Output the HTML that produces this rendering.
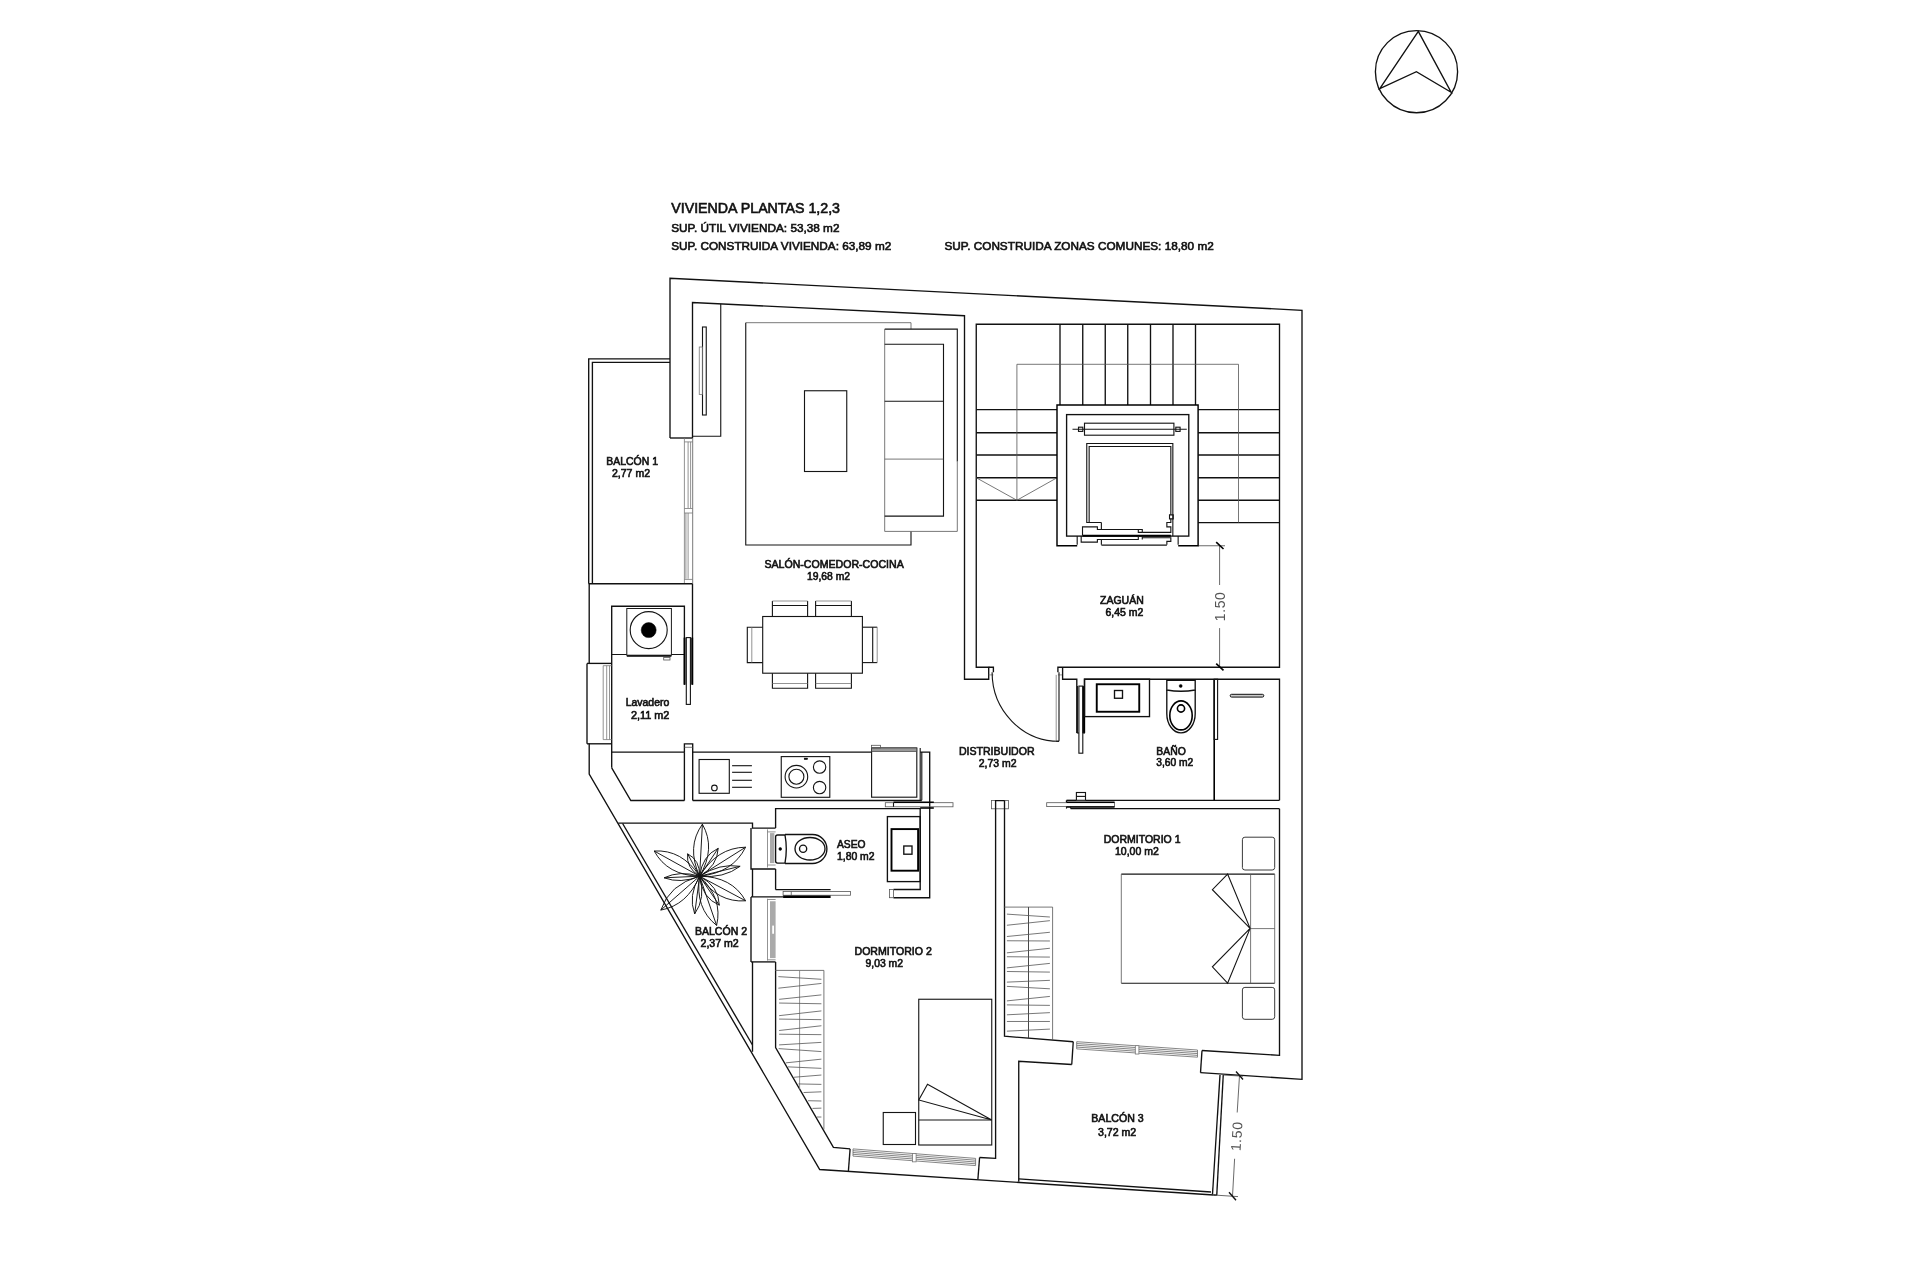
<!DOCTYPE html>
<html lang="es"><head><meta charset="utf-8"><title>Vivienda plantas 1,2,3</title>
<style>
html,body{margin:0;padding:0;background:#fff}
svg{display:block;filter:grayscale(1)}
line,polyline,polygon,rect,circle,ellipse,path{fill:none;stroke-linecap:butt;stroke-linejoin:miter}
.w{stroke:#111;stroke-width:1.35}
.m{stroke:#151515;stroke-width:1.12}
.t{stroke:#777;stroke-width:.8}
.t2{stroke:#555;stroke-width:.8}
.d{stroke:#444;stroke-width:.8}
.p{stroke:#111;stroke-width:.95}
.k{fill:#000;stroke:#000;stroke-width:.5}
.k2{stroke:#000;stroke-width:1.9}
.k5{stroke:#000;stroke-width:1.45}
.k3{stroke:#000;stroke-width:1.6}
.k4{stroke:#000;stroke-width:2.6}
.m2{stroke:#333;stroke-width:.9}
.hd{stroke:#111;stroke-width:1;fill:#ccc}
.wh{fill:#fff;stroke:none}
.wn{stroke:#707070;stroke-width:.85}
.wm{stroke:#777;stroke-width:.8;fill:#fff}
.ns{stroke:#3a3a3a;stroke-width:1}
.mw{stroke:#1a1a1a;stroke-width:1;fill:#fff}
.g{fill:#aaa;stroke:none}
.g2{fill:#999;stroke:#333;stroke-width:.6}
.none{stroke:none}
text{font-family:"Liberation Sans",sans-serif;fill:#111}
.lbl{stroke:#111;stroke-width:.62px}
.hdr{stroke:#111;stroke-width:.62px}
.dim{fill:#555}
</style></head>
<body>
<svg width="1920" height="1280" viewBox="0 0 1920 1280">
<rect x="0" y="0" width="1920" height="1280" style="fill:#fff;stroke:none"/>
<circle class="w" cx="1416.50" cy="71.70" r="41.10" />
<polygon class="w" points="1418.30,31.40 1379.80,88.60 1416.40,71.70 1451.10,92.30"/>
<text class="hdr" x="671.25" y="213.25" font-size="14.2" textLength="168.75" lengthAdjust="spacingAndGlyphs">VIVIENDA PLANTAS 1,2,3</text>
<text class="hdr" x="671.25" y="231.75" font-size="11.7" textLength="168.25" lengthAdjust="spacingAndGlyphs">SUP. ÚTIL VIVIENDA: 53,38 m2</text>
<text class="hdr" x="671.25" y="250.00" font-size="11.7" textLength="220.00" lengthAdjust="spacingAndGlyphs">SUP. CONSTRUIDA VIVIENDA: 63,89 m2</text>
<text class="hdr" x="944.50" y="250.00" font-size="11.7" textLength="269.25" lengthAdjust="spacingAndGlyphs">SUP. CONSTRUIDA ZONAS COMUNES: 18,80 m2</text>
<polyline class="w" points="670.00,438.00 670.00,278.25 1302.00,310.30 1302.00,1079.30 1200.40,1072.70"/>
<line class="w" x1="670.00" y1="438.00" x2="692.50" y2="438.00"/>
<polyline class="w" points="692.50,438.00 692.50,302.50 964.50,315.75 964.50,679.20 988.70,679.20 988.70,667.20 976.25,667.20 976.25,324.25 1279.50,324.25 1279.50,667.20 1057.90,667.20 1057.90,672.30"/>
<polyline class="m" points="720.75,303.90 720.75,436.25 692.50,436.25"/>
<rect class="m" x="702.50" y="327.00" width="3.75" height="88.00" />
<rect class="t" x="699.25" y="347.00" width="3.25" height="47.50" />
<polyline class="w" points="670.00,358.90 588.70,358.90 588.70,583.75"/>
<polyline class="w" points="670.00,362.30 592.40,362.30 592.40,583.75"/>
<line class="t" x1="684.40" y1="438.00" x2="684.40" y2="583.50"/>
<line class="t2" x1="692.70" y1="438.00" x2="692.70" y2="583.50"/>
<line class="t" x1="688.10" y1="441.90" x2="688.10" y2="508.10"/>
<line class="t" x1="690.60" y1="441.90" x2="690.60" y2="508.10"/>
<line class="t" x1="684.40" y1="441.90" x2="692.70" y2="441.90"/>
<line class="t" x1="684.40" y1="508.50" x2="692.70" y2="508.50"/>
<line class="t" x1="684.40" y1="513.00" x2="692.70" y2="513.00"/>
<line class="t" x1="685.90" y1="513.00" x2="685.90" y2="578.75"/>
<line class="t" x1="688.10" y1="513.00" x2="688.10" y2="578.75"/>
<line class="t" x1="684.40" y1="579.40" x2="692.70" y2="579.40"/>
<line class="w" x1="588.75" y1="583.75" x2="692.50" y2="583.75"/>
<line class="w" x1="589.20" y1="583.75" x2="589.20" y2="663.40"/>
<line class="w" x1="587.00" y1="663.40" x2="611.70" y2="663.40"/>
<polyline class="w" points="611.70,767.80 611.70,606.20 684.40,606.20 684.40,684.70"/>
<line class="w" x1="692.50" y1="583.75" x2="692.50" y2="684.70"/>
<line class="m" x1="611.70" y1="654.50" x2="684.40" y2="654.50"/>
<line class="k2" x1="684.60" y1="637.60" x2="684.60" y2="684.70"/>
<line class="k2" x1="692.20" y1="637.60" x2="692.20" y2="684.70"/>
<rect class="m" x="686.30" y="637.60" width="4.10" height="66.80" />
<rect class="mw" x="626.80" y="608.50" width="44.60" height="46.70" />
<circle class="m" cx="648.70" cy="630.10" r="18.50" />
<circle class="k" cx="648.70" cy="630.10" r="7.50" />
<line class="k3" x1="626.80" y1="656.00" x2="671.40" y2="656.00"/>
<rect class="t2" x="663.70" y="657.50" width="6.30" height="2.50" />
<line class="w" x1="587.00" y1="663.40" x2="587.00" y2="743.80"/>
<line class="t" x1="603.20" y1="665.70" x2="603.20" y2="739.60"/>
<line class="t" x1="606.70" y1="665.70" x2="606.70" y2="739.60"/>
<line class="t" x1="609.50" y1="665.70" x2="609.50" y2="739.60"/>
<line class="t" x1="603.20" y1="665.70" x2="611.70" y2="665.70"/>
<line class="t" x1="603.20" y1="739.60" x2="611.70" y2="739.60"/>
<line class="w" x1="587.00" y1="743.80" x2="611.70" y2="743.80"/>
<polyline class="w" points="589.20,743.80 589.20,774.00 819.70,1169.50 1213.75,1195.00"/>
<polyline class="w" points="611.70,767.80 630.80,800.50 684.40,800.50"/>
<line class="w" x1="692.70" y1="800.50" x2="921.80" y2="800.50"/>
<line class="w" x1="611.70" y1="752.10" x2="684.50" y2="752.10"/>
<line class="w" x1="692.00" y1="752.10" x2="871.60" y2="752.10"/>
<polyline class="w" points="684.40,752.10 684.40,743.90 692.70,743.90 692.70,800.60"/>
<line class="t2" x1="684.40" y1="747.30" x2="692.70" y2="747.30"/>
<line class="w" x1="684.40" y1="752.10" x2="684.40" y2="800.60"/>
<rect class="m" x="699.10" y="759.50" width="30.20" height="33.80" />
<circle class="m" cx="714.40" cy="787.90" r="2.80" />
<line class="m" x1="732.10" y1="765.70" x2="751.90" y2="765.70"/>
<line class="m" x1="732.10" y1="772.30" x2="751.90" y2="772.30"/>
<line class="m" x1="732.10" y1="780.30" x2="751.90" y2="780.30"/>
<line class="m" x1="732.10" y1="787.30" x2="751.90" y2="787.30"/>
<rect class="m" x="781.25" y="756.60" width="48.55" height="40.70" />
<circle class="m" cx="796.40" cy="776.70" r="11.30" />
<circle class="m" cx="796.40" cy="776.70" r="7.50" />
<circle class="m" cx="819.60" cy="767.10" r="6.20" />
<circle class="m" cx="819.60" cy="787.60" r="6.20" />
<rect class="k" x="804.20" y="758.10" width="3.40" height="1.40" />
<rect class="m" x="871.60" y="748.00" width="45.20" height="49.20" />
<rect class="g2" x="871.60" y="748.00" width="45.20" height="3.60" />
<rect class="t2" x="871.60" y="745.30" width="8.90" height="2.70" />
<line class="m" x1="920.20" y1="748.00" x2="920.20" y2="800.30"/>
<line class="m" x1="921.80" y1="752.10" x2="921.80" y2="800.30"/>
<polyline class="w" points="920.20,752.10 929.70,752.10 929.70,897.70 893.50,897.70"/>
<line class="w" x1="775.60" y1="869.00" x2="775.60" y2="889.60"/>
<polyline class="w" points="775.60,828.10 775.60,808.60 920.20,808.60 920.20,889.50 893.50,889.50"/>
<rect class="t2" x="889.40" y="889.50" width="4.10" height="8.20" />
<rect class="t2" x="885.30" y="802.70" width="67.70" height="4.10" />
<line class="k3" x1="893.50" y1="802.20" x2="933.80" y2="802.20"/>
<line class="k3" x1="920.20" y1="808.00" x2="933.80" y2="808.00"/>
<line class="m" x1="893.50" y1="802.70" x2="893.50" y2="806.80"/>
<rect class="w" x="887.40" y="816.60" width="32.80" height="65.00" />
<rect class="k2" x="891.50" y="829.10" width="26.60" height="41.60" />
<rect class="w" x="903.80" y="846.00" width="8.20" height="8.20" />
<path class="w" d="M785,835 L777.6,835 Q775.6,835 775.6,837 L775.6,861.1 Q775.6,863.1 777.6,863.1 L785,863.1"/>
<path class="w" d="M785,835 Q787.6,849 785,863.1"/>
<path class="w" d="M785,834.5 L812.5,834.5 A14.4,14.5 0 0 1 812.5,863.5 L785,863.5"/>
<ellipse class="w" cx="810.00" cy="848.75" rx="15.00" ry="11.25"/>
<circle class="w" cx="803.10" cy="848.75" r="3.60" />
<circle class="k" cx="780.25" cy="849.00" r="1.40" />
<line class="w" x1="775.60" y1="889.60" x2="830.60" y2="889.60"/>
<rect class="t2" x="783.10" y="891.50" width="67.50" height="3.75" />
<line class="t2" x1="791.25" y1="891.50" x2="791.25" y2="895.25"/>
<line class="k4" x1="783.10" y1="896.70" x2="830.60" y2="896.70"/>
<polyline class="w" points="618.20,823.10 752.50,823.10 752.50,828.10 775.60,828.10"/>
<line class="w" x1="622.60" y1="823.50" x2="752.50" y2="1045.00"/>
<polyline class="w" points="751.00,828.10 751.00,869.00 775.60,869.00"/>
<line class="t" x1="767.50" y1="829.40" x2="767.50" y2="867.50"/>
<line class="t" x1="767.50" y1="831.90" x2="775.60" y2="831.90"/>
<line class="t" x1="767.50" y1="865.00" x2="775.60" y2="865.00"/>
<rect class="g" x="770.00" y="833.10" width="4.40" height="30.00" />
<line class="w" x1="752.50" y1="869.00" x2="752.50" y2="896.90"/>
<line class="w" x1="751.00" y1="896.90" x2="783.10" y2="896.90"/>
<line class="w" x1="751.00" y1="896.90" x2="751.00" y2="961.90"/>
<line class="t" x1="767.50" y1="898.75" x2="767.50" y2="960.60"/>
<line class="t" x1="767.50" y1="899.50" x2="775.60" y2="899.50"/>
<line class="t" x1="767.50" y1="959.80" x2="775.60" y2="959.80"/>
<rect class="g" x="770.00" y="901.25" width="5.60" height="56.85" />
<rect class="wh" x="772.20" y="925.60" width="1.80" height="8.15" />
<line class="w" x1="751.00" y1="961.90" x2="775.60" y2="961.90"/>
<line class="w" x1="752.50" y1="961.90" x2="752.50" y2="1051.75"/>
<polyline class="w" points="775.60,961.90 775.60,1047.60 833.40,1147.30 850.10,1148.90"/>
<line class="w" x1="850.10" y1="1148.90" x2="848.40" y2="1171.00"/>
<line class="w" x1="979.60" y1="1157.50" x2="977.90" y2="1179.30"/>
<line class="wn" x1="853.00" y1="1148.90" x2="975.60" y2="1158.40"/>
<line class="wn" x1="853.00" y1="1150.70" x2="975.60" y2="1160.20"/>
<line class="wn" x1="853.00" y1="1152.50" x2="975.60" y2="1162.00"/>
<line class="wn" x1="853.00" y1="1154.30" x2="975.60" y2="1163.80"/>
<line class="wn" x1="853.00" y1="1156.10" x2="975.60" y2="1165.60"/>
<line class="wn" x1="853.00" y1="1148.90" x2="853.00" y2="1156.10"/>
<line class="wn" x1="975.60" y1="1158.40" x2="975.60" y2="1165.60"/>
<rect class="wm" x="912.50" y="1153.45" width="3.60" height="8.40" />
<rect class="t2" x="991.60" y="800.60" width="17.00" height="8.20" />
<polyline class="w" points="1004.50,800.60 995.60,800.60 995.60,1158.40 979.60,1157.50"/>
<polyline class="w" points="1004.50,800.60 1004.50,1036.25 1073.25,1041.75"/>
<line class="w" x1="1073.25" y1="1041.75" x2="1071.75" y2="1064.50"/>
<polyline class="w" points="1071.75,1064.50 1018.75,1061.25 1018.75,1181.75"/>
<line class="w" x1="1202.00" y1="1050.50" x2="1200.50" y2="1072.60"/>
<polyline class="w" points="1202.00,1050.50 1279.50,1055.30 1279.50,808.75"/>
<line class="wn" x1="1076.70" y1="1041.70" x2="1197.50" y2="1050.00"/>
<line class="wn" x1="1076.70" y1="1043.50" x2="1197.50" y2="1051.80"/>
<line class="wn" x1="1076.70" y1="1045.30" x2="1197.50" y2="1053.60"/>
<line class="wn" x1="1076.70" y1="1047.10" x2="1197.50" y2="1055.40"/>
<line class="wn" x1="1076.70" y1="1048.90" x2="1197.50" y2="1057.20"/>
<line class="wn" x1="1076.70" y1="1041.70" x2="1076.70" y2="1048.90"/>
<line class="wn" x1="1197.50" y1="1050.00" x2="1197.50" y2="1057.20"/>
<rect class="wm" x="1135.30" y="1045.65" width="3.60" height="8.40" />
<line class="w" x1="1018.75" y1="1178.80" x2="1211.00" y2="1192.00"/>
<line class="w" x1="1220.00" y1="1075.00" x2="1212.50" y2="1194.25"/>
<line class="w" x1="1223.25" y1="1075.00" x2="1216.75" y2="1195.20"/>
<line class="w" x1="1213.75" y1="1195.00" x2="1216.75" y2="1195.20"/>
<line class="d" x1="1239.50" y1="1075.50" x2="1237.20" y2="1112.50"/>
<line class="d" x1="1234.60" y1="1158.75" x2="1232.50" y2="1196.25"/>
<line class="d" x1="1223.00" y1="1075.00" x2="1243.00" y2="1076.20"/>
<line class="d" x1="1213.75" y1="1195.00" x2="1238.00" y2="1196.60"/>
<line class="w" x1="1236.00" y1="1071.50" x2="1243.00" y2="1079.50"/>
<line class="w" x1="1229.00" y1="1192.20" x2="1236.00" y2="1200.20"/>
<text class="dim" font-size="14" text-anchor="middle" letter-spacing=".6" transform="translate(1241.5,1136.5) rotate(-86.4)">1.50</text>
<line class="d" x1="1219.60" y1="545.60" x2="1219.60" y2="585.00"/>
<line class="d" x1="1219.60" y1="628.10" x2="1219.60" y2="667.00"/>
<line class="d" x1="1198.25" y1="545.75" x2="1225.00" y2="545.75"/>
<line class="k3" x1="1216.20" y1="542.20" x2="1223.50" y2="549.00"/>
<line class="k3" x1="1216.20" y1="663.60" x2="1223.50" y2="670.40"/>
<text class="dim" font-size="14" text-anchor="middle" letter-spacing=".6" transform="translate(1225.4,606.4) rotate(-90)">1.50</text>
<line class="t" x1="1057.90" y1="674.90" x2="1062.60" y2="674.90"/>
<polyline class="w" points="1062.60,667.20 1062.60,679.20 1076.80,679.20 1076.80,733.00"/>
<polyline class="w" points="1084.50,733.00 1084.50,679.20 1279.50,679.20 1279.50,800.30"/>
<line class="w" x1="1066.50" y1="800.30" x2="1076.40" y2="800.30"/>
<line class="w" x1="1085.50" y1="800.30" x2="1279.50" y2="800.30"/>
<polyline class="w" points="1066.50,800.30 1066.50,802.40"/>
<line class="w" x1="1070.60" y1="808.60" x2="1279.50" y2="808.60"/>
<line class="k3" x1="1214.20" y1="679.20" x2="1214.20" y2="800.30"/>
<rect class="m" x="1214.20" y="679.20" width="3.40" height="60.20" />
<rect class="hd" x="1230.20" y="694.30" width="33.60" height="2.80" rx="1.4"/>
<line class="m" x1="1077.40" y1="686.10" x2="1077.40" y2="733.00"/>
<line class="k4" x1="1083.70" y1="686.10" x2="1083.70" y2="733.00"/>
<rect class="m" x="1078.90" y="686.10" width="3.90" height="67.10" />
<line class="m" x1="1076.80" y1="733.00" x2="1078.90" y2="733.00"/>
<line class="m" x1="1082.80" y1="733.00" x2="1085.00" y2="733.00"/>
<rect class="w" x="1084.50" y="679.20" width="65.00" height="37.40" />
<rect class="k2" x="1096.75" y="684.25" width="42.50" height="27.50" />
<rect class="w" x="1114.50" y="690.50" width="8.00" height="7.75" />
<path class="w" d="M1166.8,680.4 L1195.2,680.4 L1195.2,690 Q1181,692.4 1166.8,690 Z"/>
<circle class="k" cx="1180.70" cy="685.90" r="1.50" />
<path class="w" d="M1166.8,690 L1166.8,713.7 A14.2,19.2 0 0 0 1195.2,713.7 L1195.2,690"/>
<ellipse class="k3" cx="1181.00" cy="715.40" rx="11.20" ry="14.50"/>
<circle class="k3" cx="1181.00" cy="708.50" r="3.60" />
<rect class="t2" x="1046.70" y="802.70" width="67.90" height="3.90" />
<line class="k3" x1="1066.50" y1="802.20" x2="1114.60" y2="802.20"/>
<line class="k3" x1="1066.50" y1="807.00" x2="1114.60" y2="807.00"/>
<line class="m" x1="1066.50" y1="806.60" x2="1066.50" y2="808.60"/>
<line class="m" x1="1070.60" y1="806.60" x2="1070.60" y2="808.60"/>
<rect class="m" x="1076.40" y="792.50" width="9.10" height="7.80" />
<line class="m" x1="1076.40" y1="796.40" x2="1085.50" y2="796.40"/>
<polyline class="w" points="988.70,667.20 993.40,667.20 993.40,672.30"/>
<line class="t" x1="988.70" y1="674.90" x2="993.40" y2="674.90"/>
<path class="m" d="M992.1,672.3 A67,69 0 0 0 1059,741.3"/>
<line class="t" x1="1056.20" y1="674.90" x2="1056.20" y2="741.30"/>
<line class="m" x1="1059.00" y1="672.30" x2="1059.00" y2="741.30"/>
<line class="m" x1="1056.20" y1="741.30" x2="1059.00" y2="741.30"/>
<polyline class="t2" points="911.00,329.10 911.00,322.70 745.75,322.70"/>
<polyline class="m" points="745.75,322.70 745.75,545.00 911.00,545.00 911.00,531.40"/>
<polyline class="m" points="884.70,329.10 957.30,329.10 957.30,461.40"/>
<polyline class="t2" points="957.30,461.40 957.30,531.40 884.70,531.40 884.70,329.10"/>
<polyline class="m" points="884.70,344.20 943.50,344.20 943.50,516.10 884.70,516.10"/>
<line class="m" x1="884.70" y1="401.20" x2="943.50" y2="401.20"/>
<line class="t2" x1="884.70" y1="459.10" x2="943.50" y2="459.10"/>
<rect class="m" x="804.50" y="390.75" width="42.25" height="80.75" />
<rect class="m" x="762.70" y="616.50" width="99.70" height="56.70" />
<polyline class="m" points="772.40,616.50 772.40,601.00"/>
<polyline class="m" points="807.60,616.50 807.60,601.00"/>
<line class="t" x1="772.40" y1="601.00" x2="807.60" y2="601.00"/>
<line class="m" x1="772.40" y1="605.50" x2="807.60" y2="605.50"/>
<polyline class="m" points="772.40,673.20 772.40,688.20 807.60,688.20 807.60,673.20"/>
<line class="t" x1="772.40" y1="683.50" x2="807.60" y2="683.50"/>
<polyline class="m" points="815.60,616.50 815.60,601.00"/>
<polyline class="m" points="851.40,616.50 851.40,601.00"/>
<line class="t" x1="815.60" y1="601.00" x2="851.40" y2="601.00"/>
<line class="m" x1="815.60" y1="605.50" x2="851.40" y2="605.50"/>
<polyline class="m" points="815.60,673.20 815.60,688.20 851.40,688.20 851.40,673.20"/>
<line class="t" x1="815.60" y1="683.50" x2="851.40" y2="683.50"/>
<polyline class="m" points="762.70,627.20 747.30,627.20 747.30,662.60 762.70,662.60"/>
<line class="t" x1="751.80" y1="627.20" x2="751.80" y2="662.60"/>
<polyline class="m" points="862.40,627.20 877.20,627.20"/>
<polyline class="m" points="862.40,662.60 877.20,662.60"/>
<line class="t" x1="877.20" y1="627.20" x2="877.20" y2="662.60"/>
<line class="m" x1="872.70" y1="627.20" x2="872.70" y2="662.60"/>
<line class="w" x1="1060.00" y1="324.25" x2="1060.00" y2="405.00"/>
<line class="w" x1="1082.75" y1="324.25" x2="1082.75" y2="405.00"/>
<line class="w" x1="1105.25" y1="324.25" x2="1105.25" y2="405.00"/>
<line class="w" x1="1127.75" y1="324.25" x2="1127.75" y2="405.00"/>
<line class="w" x1="1150.50" y1="324.25" x2="1150.50" y2="405.00"/>
<line class="w" x1="1173.00" y1="324.25" x2="1173.00" y2="405.00"/>
<line class="w" x1="1195.50" y1="324.25" x2="1195.50" y2="405.00"/>
<line class="w" x1="976.25" y1="409.60" x2="1057.00" y2="409.60"/>
<line class="w" x1="976.25" y1="432.75" x2="1057.00" y2="432.75"/>
<line class="w" x1="976.25" y1="455.00" x2="1057.00" y2="455.00"/>
<line class="w" x1="976.25" y1="477.75" x2="1057.00" y2="477.75"/>
<line class="w" x1="976.25" y1="500.25" x2="1057.00" y2="500.25"/>
<line class="w" x1="1198.25" y1="409.60" x2="1279.50" y2="409.60"/>
<line class="w" x1="1198.25" y1="432.75" x2="1279.50" y2="432.75"/>
<line class="w" x1="1198.25" y1="455.00" x2="1279.50" y2="455.00"/>
<line class="w" x1="1198.25" y1="477.75" x2="1279.50" y2="477.75"/>
<line class="w" x1="1198.25" y1="500.25" x2="1279.50" y2="500.25"/>
<line class="w" x1="1198.25" y1="522.60" x2="1279.50" y2="522.60"/>
<polyline class="t2" points="1016.90,500.25 1016.90,364.30 1238.50,364.30 1238.50,522.60"/>
<polyline class="t2" points="976.25,477.75 1016.90,500.25 1057.00,477.75"/>
<rect class="none" x="1057.00" y="404.90" width="141.10" height="140.80" />
<polyline class="k5" points="1077.20,545.70 1057.00,545.70 1057.00,404.90 1198.10,404.90 1198.10,545.70 1178.20,545.70"/>
<rect class="w" x="1066.60" y="414.60" width="122.20" height="121.50" />
<rect class="m" x="1084.50" y="423.20" width="89.40" height="12.00" />
<line class="m" x1="1072.50" y1="429.30" x2="1186.80" y2="429.30"/>
<rect class="m" x="1078.50" y="427.20" width="4.30" height="4.20" />
<rect class="m" x="1175.80" y="427.20" width="4.30" height="4.20" />
<polyline class="m" points="1101.37,522.44 1086.76,522.44 1086.76,443.53 1172.84,443.53 1172.84,536.12"/>
<polyline class="m" points="1089.15,522.44 1089.15,446.46 1170.84,446.46 1170.84,514.87"/>
<polygon class="m" points="1169.52,514.87 1173.24,514.87 1173.24,518.85 1169.52,518.85"/>
<polyline class="m" points="1101.37,522.44 1101.37,529.48 1097.39,529.48 1097.39,526.82 1082.51,526.82 1082.51,535.46"/>
<polyline class="m" points="1097.39,529.48 1142.28,529.48 1142.28,532.40 1138.30,532.40 1138.30,529.48"/>
<polyline class="m" points="1142.28,532.40 1170.84,532.40 1170.84,526.82 1166.86,526.82 1166.86,522.44 1170.84,522.44 1170.84,518.85"/>
<line class="k2" x1="1082.51" y1="535.72" x2="1170.84" y2="535.72"/>
<polyline class="m" points="1077.19,536.12 1077.19,544.76"/>
<polyline class="m" points="1178.15,536.12 1178.15,544.76"/>
<polyline class="m" points="1081.18,536.12 1081.18,542.10 1097.39,542.10 1097.39,539.44 1101.37,539.44 1101.37,544.76"/>
<polyline class="m" points="1101.37,539.44 1138.30,539.44 1138.30,536.52 1142.28,536.52 1142.28,539.44"/>
<polyline class="m" points="1142.28,537.72 1170.84,537.72 1170.84,541.43 1166.86,541.43 1166.86,544.76"/>
<line class="m" x1="1101.37" y1="545.15" x2="1166.86" y2="545.15"/>
<polyline class="t2" points="1003.90,907.10 1052.60,907.10 1052.60,1040.00"/>
<line class="m2" x1="1028.50" y1="907.10" x2="1028.50" y2="1038.20"/>
<line class="t2" x1="1006.90" y1="914.12" x2="1049.90" y2="917.03"/>
<line class="t2" x1="1006.90" y1="925.26" x2="1049.90" y2="920.66"/>
<line class="t2" x1="1006.90" y1="936.51" x2="1049.90" y2="932.28"/>
<line class="t2" x1="1006.90" y1="940.75" x2="1049.90" y2="940.99"/>
<line class="t2" x1="1006.90" y1="952.85" x2="1049.90" y2="948.25"/>
<line class="t2" x1="1006.90" y1="956.72" x2="1049.90" y2="957.09"/>
<line class="t2" x1="1006.90" y1="967.86" x2="1049.90" y2="963.38"/>
<line class="t2" x1="1006.90" y1="971.49" x2="1049.90" y2="972.10"/>
<line class="t2" x1="1006.90" y1="982.14" x2="1049.90" y2="980.33"/>
<line class="t2" x1="1006.90" y1="986.38" x2="1049.90" y2="988.80"/>
<line class="t2" x1="1006.90" y1="1000.90" x2="1049.90" y2="996.42"/>
<line class="t2" x1="1006.90" y1="1004.89" x2="1049.90" y2="1005.38"/>
<line class="t2" x1="1006.90" y1="1014.82" x2="1049.90" y2="1012.64"/>
<line class="t2" x1="1006.90" y1="1021.48" x2="1049.90" y2="1021.48"/>
<line class="t2" x1="1006.90" y1="1031.16" x2="1049.90" y2="1029.10"/>
<rect class="ns" x="1242.40" y="837.20" width="32.30" height="32.80" rx="2.5"/>
<rect class="ns" x="1242.40" y="987.40" width="32.30" height="31.90" rx="2.5"/>
<line class="m" x1="1121.30" y1="874.10" x2="1274.70" y2="874.10"/>
<line class="m" x1="1121.30" y1="983.20" x2="1274.70" y2="983.20"/>
<line class="t2" x1="1121.30" y1="874.10" x2="1121.30" y2="983.20"/>
<line class="t2" x1="1274.70" y1="874.10" x2="1274.70" y2="983.20"/>
<line class="t2" x1="1250.60" y1="874.10" x2="1250.60" y2="983.20"/>
<line class="t2" x1="1250.60" y1="928.60" x2="1274.70" y2="928.60"/>
<polygon class="m" points="1227.60,874.10 1212.40,889.70 1250.10,928.40"/>
<polygon class="m" points="1227.60,983.20 1212.40,966.80 1250.10,928.40"/>
<polyline class="t2" points="775.10,970.40 823.90,970.40 823.90,1129.50"/>
<line class="t" x1="799.60" y1="970.40" x2="799.60" y2="1089.60"/>
<line class="t2" x1="778.36" y1="976.62" x2="821.40" y2="979.29"/>
<line class="t2" x1="778.36" y1="988.20" x2="821.40" y2="983.45"/>
<line class="t2" x1="779.10" y1="999.33" x2="821.40" y2="994.88"/>
<line class="t2" x1="779.10" y1="1003.04" x2="821.40" y2="1003.78"/>
<line class="t2" x1="779.10" y1="1015.66" x2="821.40" y2="1010.91"/>
<line class="t2" x1="779.10" y1="1019.07" x2="821.40" y2="1019.67"/>
<line class="t2" x1="779.10" y1="1030.50" x2="821.40" y2="1025.75"/>
<line class="t2" x1="779.10" y1="1034.21" x2="821.40" y2="1034.66"/>
<line class="t2" x1="779.10" y1="1044.90" x2="821.40" y2="1042.37"/>
<line class="t2" x1="778.65" y1="1048.61" x2="821.40" y2="1051.58"/>
<line class="t2" x1="785.78" y1="1062.86" x2="821.40" y2="1059.15"/>
<line class="t2" x1="788.01" y1="1066.86" x2="821.40" y2="1068.35"/>
<line class="t2" x1="793.94" y1="1077.25" x2="821.40" y2="1075.03"/>
<line class="t2" x1="798.40" y1="1083.93" x2="821.40" y2="1084.38"/>
<line class="t2" x1="803.59" y1="1092.54" x2="821.40" y2="1091.80"/>
<line class="t2" x1="808.04" y1="1100.71" x2="821.40" y2="1101.00"/>
<line class="t2" x1="812.50" y1="1108.42" x2="821.40" y2="1108.13"/>
<line class="t2" x1="816.95" y1="1117.03" x2="821.40" y2="1117.03"/>
<rect class="m" x="918.75" y="999.25" width="73.00" height="145.75" />
<line class="m" x1="918.75" y1="1120.00" x2="991.75" y2="1120.00"/>
<polygon class="m" points="918.75,1100.00 927.50,1084.25 991.75,1120.00"/>
<rect class="m" x="883.25" y="1112.50" width="32.25" height="32.00" />
<path class="p" d="M699.6,876.2 Q716.1,848.4 702.4,824.2 Q686.2,846.8 699.6,876.2 M699.6,876.2 L702.4,824.2"/>
<path class="p" d="M699.6,876.2 Q732.9,872.9 745.6,847.2 Q716.9,847.6 699.6,876.2 M699.6,876.2 L745.6,847.2"/>
<path class="p" d="M699.6,876.2 Q681.9,849.3 654.2,851.0 Q667.4,875.4 699.6,876.2 M699.6,876.2 L654.2,851.0"/>
<path class="p" d="M699.6,876.2 Q679.8,870.2 664.1,877.8 Q680.4,884.0 699.6,876.2 M699.6,876.2 L664.1,877.8"/>
<path class="p" d="M699.6,876.2 Q669.2,884.5 660.8,910.1 Q687.3,905.2 699.6,876.2 M699.6,876.2 L660.8,910.1"/>
<path class="p" d="M699.6,876.2 Q694.8,908.1 716.6,925.4 Q723.1,898.4 699.6,876.2 M699.6,876.2 L716.6,925.4"/>
<path class="p" d="M699.6,876.2 Q717.8,902.9 745.6,900.8 Q732.0,876.5 699.6,876.2 M699.6,876.2 L745.6,900.8"/>
<path class="p" d="M699.6,876.2 Q723.8,878.6 740.1,866.3 Q720.0,862.9 699.6,876.2 M699.6,876.2 L740.1,866.3"/>
<path class="p" d="M699.6,876.2 Q717.5,866.0 718.2,848.3 Q702.2,855.8 699.6,876.2 M699.6,876.2 L718.2,848.3"/>
<path class="p" d="M699.6,876.2 Q700.1,860.1 687.6,853.8 Q685.9,867.7 699.6,876.2 M699.6,876.2 L687.6,853.8"/>
<path class="p" d="M699.6,876.2 Q687.8,895.7 694.7,913.9 Q706.0,898.1 699.6,876.2 M699.6,876.2 L694.7,913.9"/>
<path class="p" d="M699.6,876.2 Q701.9,898.0 719.3,905.2 Q719.0,886.3 699.6,876.2 M699.6,876.2 L719.3,905.2"/>
<text class="lbl" x="606.25" y="465.00" font-size="10.6" textLength="51.75" lengthAdjust="spacingAndGlyphs">BALCÓN 1</text>
<text class="lbl" x="612.00" y="477.00" font-size="10.6" textLength="38.00" lengthAdjust="spacingAndGlyphs">2,77 m2</text>
<text class="lbl" x="625.70" y="706.10" font-size="10.6" textLength="43.60" lengthAdjust="spacingAndGlyphs">Lavadero</text>
<text class="lbl" x="630.90" y="718.80" font-size="10.6" textLength="38.40" lengthAdjust="spacingAndGlyphs">2,11 m2</text>
<text class="lbl" x="764.50" y="568.25" font-size="10.6" textLength="139.25" lengthAdjust="spacingAndGlyphs">SALÓN-COMEDOR-COCINA</text>
<text class="lbl" x="807.00" y="580.00" font-size="10.6" textLength="43.00" lengthAdjust="spacingAndGlyphs">19,68 m2</text>
<text class="lbl" x="1100.00" y="603.75" font-size="10.6" textLength="43.75" lengthAdjust="spacingAndGlyphs">ZAGUÁN</text>
<text class="lbl" x="1105.50" y="615.75" font-size="10.6" textLength="37.75" lengthAdjust="spacingAndGlyphs">6,45 m2</text>
<text class="lbl" x="958.90" y="754.80" font-size="10.6" textLength="75.70" lengthAdjust="spacingAndGlyphs">DISTRIBUIDOR</text>
<text class="lbl" x="978.70" y="766.60" font-size="10.6" textLength="37.80" lengthAdjust="spacingAndGlyphs">2,73 m2</text>
<text class="lbl" x="1156.25" y="754.60" font-size="10.6" textLength="29.50" lengthAdjust="spacingAndGlyphs">BAÑO</text>
<text class="lbl" x="1156.25" y="766.40" font-size="10.6" textLength="37.00" lengthAdjust="spacingAndGlyphs">3,60 m2</text>
<text class="lbl" x="837.00" y="847.50" font-size="10.6" textLength="28.50" lengthAdjust="spacingAndGlyphs">ASEO</text>
<text class="lbl" x="837.00" y="859.50" font-size="10.6" textLength="37.50" lengthAdjust="spacingAndGlyphs">1,80 m2</text>
<text class="lbl" x="1103.75" y="843.00" font-size="10.6" textLength="76.75" lengthAdjust="spacingAndGlyphs">DORMITORIO 1</text>
<text class="lbl" x="1115.00" y="855.00" font-size="10.6" textLength="43.75" lengthAdjust="spacingAndGlyphs">10,00 m2</text>
<text class="lbl" x="854.50" y="955.00" font-size="10.6" textLength="77.25" lengthAdjust="spacingAndGlyphs">DORMITORIO 2</text>
<text class="lbl" x="865.50" y="967.00" font-size="10.6" textLength="37.50" lengthAdjust="spacingAndGlyphs">9,03 m2</text>
<text class="lbl" x="695.00" y="935.00" font-size="10.6" textLength="52.00" lengthAdjust="spacingAndGlyphs">BALCÓN 2</text>
<text class="lbl" x="700.50" y="947.00" font-size="10.6" textLength="38.25" lengthAdjust="spacingAndGlyphs">2,37 m2</text>
<text class="lbl" x="1091.25" y="1121.80" font-size="10.6" textLength="52.50" lengthAdjust="spacingAndGlyphs">BALCÓN 3</text>
<text class="lbl" x="1098.00" y="1135.60" font-size="10.6" textLength="38.25" lengthAdjust="spacingAndGlyphs">3,72 m2</text>
</svg>
</body></html>
